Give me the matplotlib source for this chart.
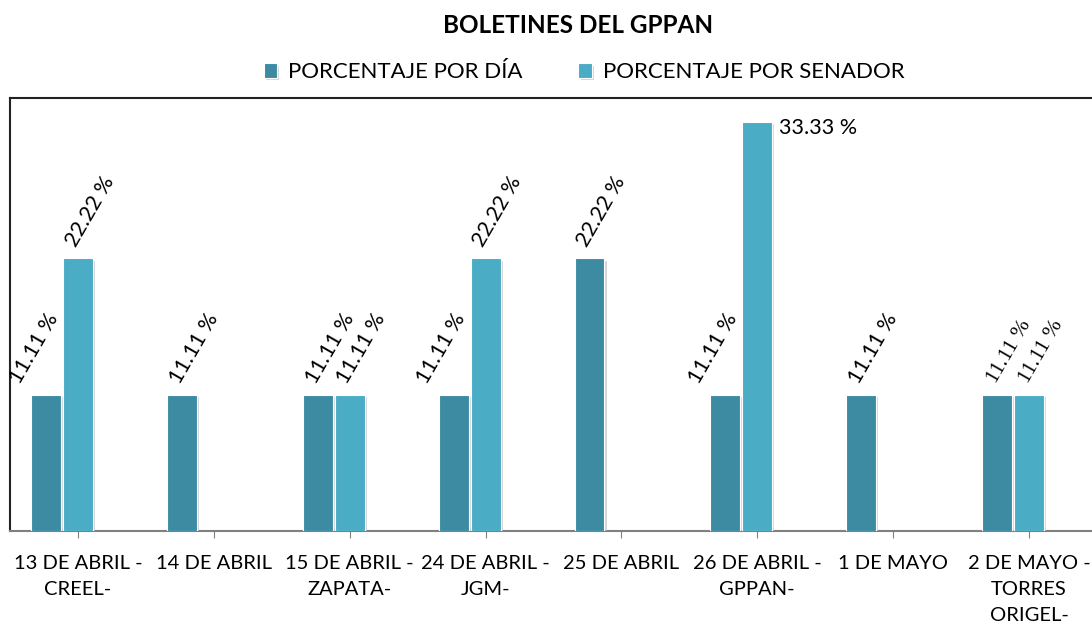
import matplotlib.pyplot as plt
import matplotlib.patheffects as pe
import numpy as np

# datos
categorias = ['13 DE ABRIL -\nCREEL-', '14 DE ABRIL', '15 DE ABRIL -\nZAPATA-',
              '24 DE ABRIL -\nJGM-', '25 DE ABRIL', '26 DE ABRIL -\nGPPAN-',
              '1 DE MAYO', '2 DE MAYO -\nTORRES\nORIGEL-']
por_dia = [11.11, 11.11, 11.11, 11.11, 22.22, 11.11, 11.11, 11.11]
por_senador = [22.22, None, 11.11, 22.22, None, 33.33, None, 11.11]

COLOR_DIA = '#3C8BA3'
COLOR_SEN = '#4BACC6'

plt.rcParams['font.family'] = ['Lato', 'DejaVu Sans']

fig = plt.figure(figsize=(10.92, 6.29), dpi=100)
ax = fig.add_axes([10 / 1092, 1 - 531 / 629, 1087 / 1092, 433 / 629])

x = np.arange(len(categorias))
w = 0.22
sombra = [pe.SimplePatchShadow(offset=(1.5, -1.5), shadow_rgbFace='#bbbbbb', alpha=0.6), pe.Normal()]

dia_vals = np.array(por_dia)
sen_mask = np.array([v is not None for v in por_senador])
sen_vals = np.array([v if v is not None else 0 for v in por_senador])

b1 = ax.bar(x - 0.235, dia_vals, w, color=COLOR_DIA, edgecolor='white', linewidth=0.8,
            label='PORCENTAJE POR DÍA', zorder=3)
b2 = ax.bar(x[sen_mask], sen_vals[sen_mask], w, color=COLOR_SEN, edgecolor='white',
            linewidth=0.8, label='PORCENTAJE POR SENADOR', zorder=3)
for b in list(b1) + list(b2):
    b.set_path_effects(sombra)

ax.set_xlim(-0.5, len(categorias) - 0.5)
ax.set_ylim(0, 35.3)

# etiquetas de datos
ultima = len(categorias) - 1
FS_DATO = 15.5
for i, v in enumerate(por_dia):
    otro = por_senador[i]
    dx = -12 if (otro is not None and otro > v) else 12
    fam = ['Liberation Serif'] if i == ultima else None
    ax.annotate(f'{v:.2f} %', (x[i] - 0.235, v), xytext=(dx, 8), textcoords='offset pixels',
                ha='center', va='bottom', rotation=60, fontsize=FS_DATO, family=fam)
for i, v in enumerate(por_senador):
    if v is None:
        continue
    fam = ['Liberation Serif'] if i == ultima else None
    if v > 30:
        ax.annotate(f'{v:.2f} %', (x[i] + w / 2, v), xytext=(7, -6), textcoords='offset pixels',
                    ha='left', va='center', fontsize=FS_DATO)
    else:
        ax.annotate(f'{v:.2f} %', (x[i], v), xytext=(12, 8), textcoords='offset pixels',
                    ha='center', va='bottom', rotation=60, fontsize=FS_DATO, family=fam)

ax.set_xticks(x)
ax.set_xticklabels(categorias, fontsize=14.5, linespacing=1.65)
ax.set_yticks([])
ax.tick_params(axis='x', length=5, color='#808080', pad=12)

ax.spines['left'].set_color('#222222')
ax.spines['top'].set_color('#222222')
ax.spines['bottom'].set_color('#808080')
ax.spines['right'].set_visible(False)
for s in ax.spines.values():
    s.set_linewidth(1.5)

fig.text(0.529, 0.96, 'BOLETINES DEL GPPAN', fontsize=17.5, fontweight='bold',
         ha='center', va='center')
fig.legend(handles=[b1, b2], loc='center', bbox_to_anchor=(0.535, 0.885), ncol=2,
           frameon=False, fontsize=16, handlelength=0.6, handleheight=0.6,
           handletextpad=0.5, columnspacing=2.5)

fig.savefig('out.png', dpi=100, facecolor='white')
